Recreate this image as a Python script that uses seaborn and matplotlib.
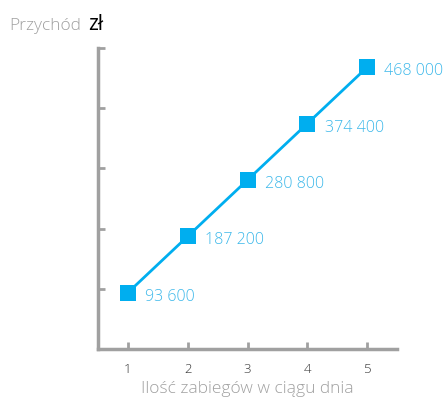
import pandas as pd
import seaborn as sns
from matplotlib import pyplot as plt

zabiegi = [1, 2, 3, 4, 5]
przychod = [93600, 187200, 280800, 374400, 468000]
etykiety = ['93 600', '187 200', '280 800', '374 400', '468 000']

df = pd.DataFrame({'zabiegi': zabiegi, 'przychod': przychod})

sns.set_style('white')
plt.rcParams['font.family'] = ['Open Sans', 'DejaVu Sans']

blue = '#00aeef'
grey = '#a0a0a0'

fig = plt.figure(figsize=(4.43, 4.01), dpi=100)
ax = fig.add_axes([0.2212, 0.1297, 0.675, 0.7506])
sns.lineplot(data=df, x='zabiegi', y='przychod', color=blue, linewidth=2,
             marker='s', markersize=12, markeredgewidth=0, ax=ax)

for x, y, t in zip(zabiegi, przychod, etykiety):
    ax.annotate(t, (x, y), xytext=(12.5, -3), textcoords='offset points',
                ha='left', va='center', color='#3cb8ea', fontsize=11.5,
                fontweight='light')

ax.set_xlim(0.5, 5.5)
ax.set_ylim(0, 500000)
ax.set_xticks(zabiegi)
ax.set_xticklabels([str(z) for z in zabiegi], fontweight='light')
ax.set_yticks([100000, 200000, 300000, 400000, 500000])
ax.set_yticklabels([])
ax.tick_params(axis='x', direction='in', length=5, width=2, color=grey,
               labelsize=9.5, labelcolor='#333333', pad=10)
ax.tick_params(axis='y', direction='in', length=5, width=2, color=grey, left=True)
ax.tick_params(axis='x', bottom=True)
for s in ['top', 'right']:
    ax.spines[s].set_visible(False)
for s in ['left', 'bottom']:
    ax.spines[s].set_color(grey)
    ax.spines[s].set_linewidth(2.5)

ax.set_xlabel('Ilość zabiegów w ciągu dnia', color=grey, fontsize=12.5,
              labelpad=4, fontweight='light')
ax.set_ylabel('')
fig.text(0.022, 0.925, 'Przychód', color=grey, fontsize=12.5, va='baseline',
         fontweight='light')
fig.text(0.2, 0.925, 'zł', color='black', fontsize=15, va='baseline')

fig.savefig('out.png', dpi=100)
